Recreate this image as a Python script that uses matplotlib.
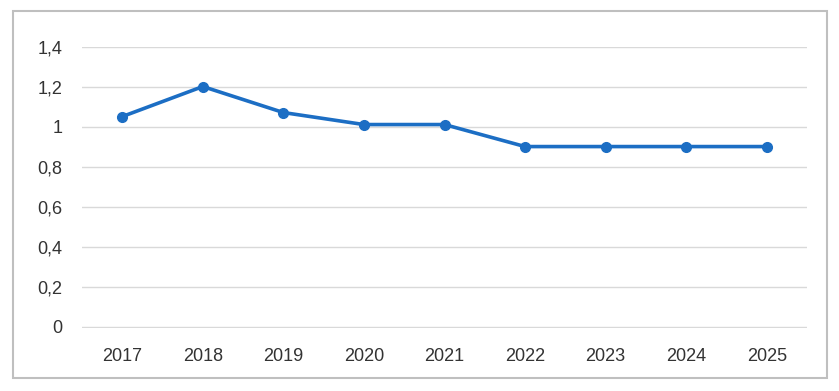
import matplotlib.pyplot as plt
from matplotlib.patches import Rectangle

years = ['2017', '2018', '2019', '2020', '2021', '2022', '2023', '2024', '2025']
values = [1.05, 1.2, 1.07, 1.01, 1.01, 0.9, 0.9, 0.9, 0.9]
yticks = [0, 0.2, 0.4, 0.6, 0.8, 1.0, 1.2, 1.4]
ylabels = ['0', '0,2', '0,4', '0,6', '0,8', '1', '1,2', '1,4']

plt.rcParams['font.family'] = ['Liberation Sans', 'DejaVu Sans']

fig = plt.figure(figsize=(8.39, 3.91), dpi=100)
fig.patch.set_facecolor('white')

# outer frame
fig.add_artist(Rectangle((13 / 839, 1 - 378 / 391), 814 / 839, 367 / 391,
                         transform=fig.transFigure, fill=False,
                         edgecolor='#BFBFBF', linewidth=1.5))

ax = fig.add_axes([82 / 839, 1 - 327.5 / 391, 725 / 839, 281 / 391])
x = range(len(years))
ax.plot(x, values, color='#1C6EC4', linewidth=2.6, marker='o', markersize=7,
        solid_capstyle='round')

ax.set_xlim(-0.5, len(years) - 0.5)
ax.set_ylim(-0.004, 1.4)
ax.set_xticks(list(x))
ax.set_xticklabels(years)
ax.set_yticks(yticks)
ax.set_yticklabels(ylabels)
ax.grid(axis='y', color='#D9D9D9', linewidth=1)
ax.set_axisbelow(True)
for s in ax.spines.values():
    s.set_visible(False)
ax.tick_params(length=0, labelsize=13, colors='#333333')
ax.tick_params(axis='y', pad=14)
ax.tick_params(axis='x', pad=15)

fig.savefig('out.png', dpi=100)
